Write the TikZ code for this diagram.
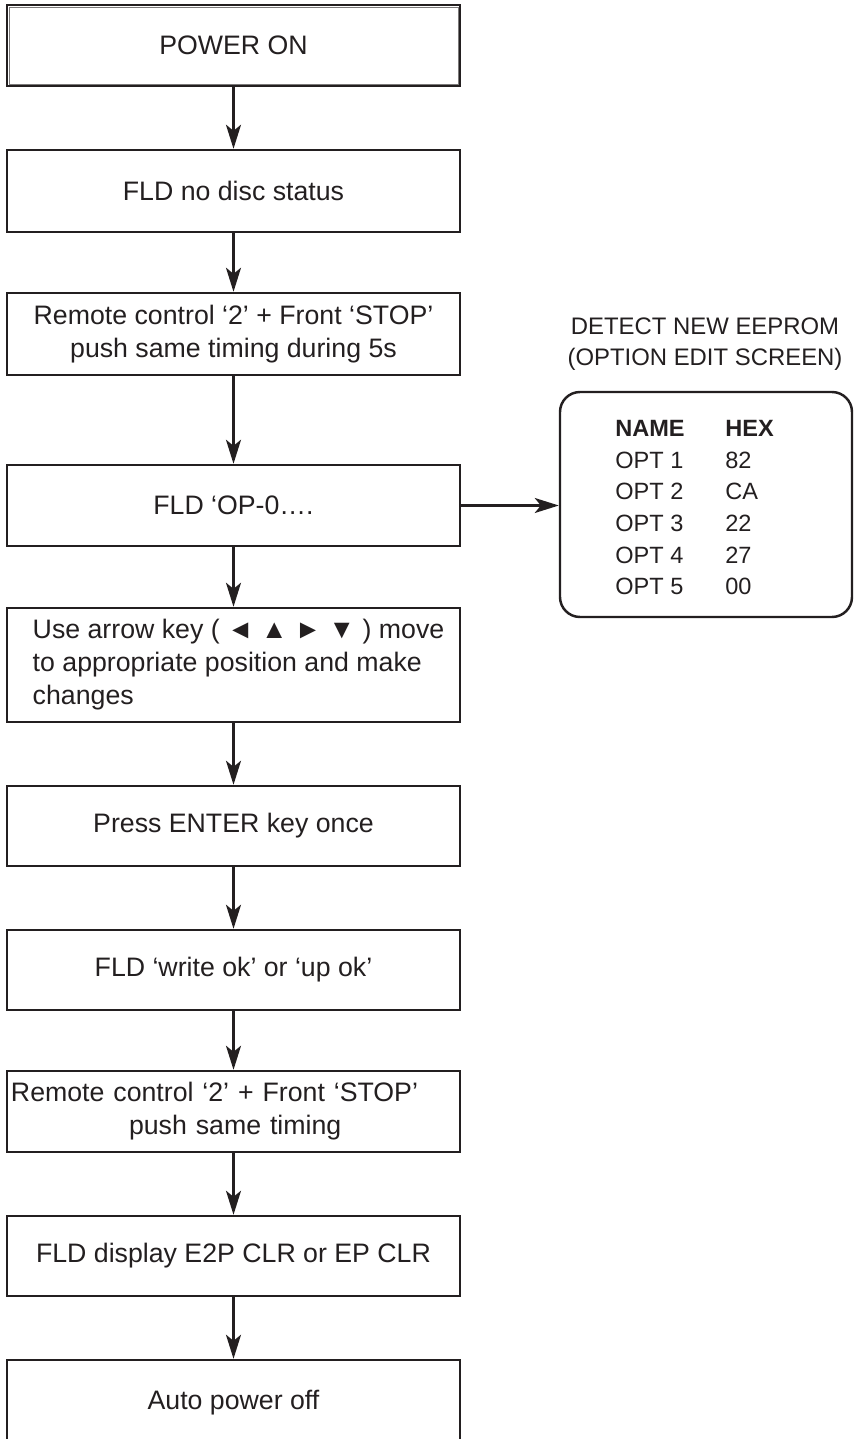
\documentclass[tikz,border=0pt]{standalone}
\usepackage{fontspec}
\setmainfont{Liberation Sans}
\usetikzlibrary{arrows.meta,calc}
\definecolor{sink}{HTML}{231F20}
\tikzset{
  >={Stealth[length=4.8mm,width=3mm,inset=1.2mm]},
  sbox/.style={draw=sink, line width=1.4pt, minimum width=9.06cm, align=center,
               inner sep=2pt, text=sink, font=\fontsize{15.2}{18.8}\selectfont},
  sflow/.style={->, sink, line width=1.3pt},
  sscreen/.style={draw=sink, line width=1.4pt, rounded corners=0.4cm,
                  minimum width=5.84cm, minimum height=4.5cm},
  stitle/.style={align=center, text=sink, font=\fontsize{13.6}{18}\selectfont},
}

\begin{document}
\begin{tikzpicture}[x=1cm,y=1cm]
  \useasboundingbox (0,0) rectangle (17.08,-28.78);

  % start box, double frame
  \node[sbox, minimum height=1.62cm, line width=1.6pt] (pw) at (4.67,-0.91) {POWER ON};
  \draw[sink!60, line width=0.4pt] ($(pw.north west)+(0.07,-0.07)$) rectangle ($(pw.south east)+(-0.07,0.07)$);

  \node[sbox, minimum height=1.64cm] (nd) at (4.67,-3.82) {FLD no disc status};
  \node[sbox, minimum height=1.64cm] (rc) at (4.67,-6.68)
       {Remote control ‘2’ + Front ‘STOP’\\push same timing during 5s};
  \node[sbox, minimum height=1.62cm] (op) at (4.67,-10.11) {FLD ‘OP-0….};
  \node[sbox, minimum height=2.28cm, align=left] (ak) at (4.67,-13.30)
       {\hspace*{0.2cm}Use arrow key ( ◄ ▲ ► ▼ ) move\\\hspace*{0.2cm}to appropriate position and make\\\hspace*{0.2cm}changes};
  \node[sbox, minimum height=1.60cm] (en) at (4.67,-16.52) {Press ENTER key once};
  \node[sbox, minimum height=1.60cm] (wr) at (4.67,-19.40) {FLD ‘write ok’ or ‘up ok’};
  \node[sbox, minimum height=1.62cm, align=left, text width=8.9cm, inner xsep=0.08cm] (rs) at (4.67,-22.23)
       {Remote control ‘2’ + Front ‘STOP’\\\hspace*{2.36cm}push same timing};
  \node[sbox, minimum height=1.60cm] (cl) at (4.67,-25.12) {FLD display E2P CLR or EP CLR};
  \node[sbox, minimum height=1.70cm] (af) at (4.67,-28.05) {Auto power off};

  % main flow
  \draw[sflow] (pw) -- (nd);
  \draw[sflow] (nd) -- (rc);
  \draw[sflow] (rc) -- (op);
  \draw[sflow] (op) -- (ak);
  \draw[sflow] (ak) -- (en);
  \draw[sflow] (en) -- (wr);
  \draw[sflow] (wr) -- (rs);
  \draw[sflow] (rs) -- (cl);
  \draw[sflow] (cl) -- (af);

  % option edit screen
  \node[stitle] (ttl) at (14.10,-6.88) {DETECT NEW EEPROM\\(OPTION EDIT SCREEN)};
  \node[sscreen] (scr) at (14.12,-10.09) {};
  \node[anchor=base west, inner sep=0, text=sink, font=\fontsize{13.4}{18}\selectfont] (tbl) at (12.30,-8.73)
       {\begin{tabular}[t]{@{}p{2.2cm}@{}l@{}}
          \textbf{NAME} & \textbf{HEX}\\
          OPT 1 & 82\\
          OPT 2 & CA\\
          OPT 3 & 22\\
          OPT 4 & 27\\
          OPT 5 & 00
        \end{tabular}};

  \draw[sflow] (op.east) -- (op.east -| scr.west);

\end{tikzpicture}
\end{document}
